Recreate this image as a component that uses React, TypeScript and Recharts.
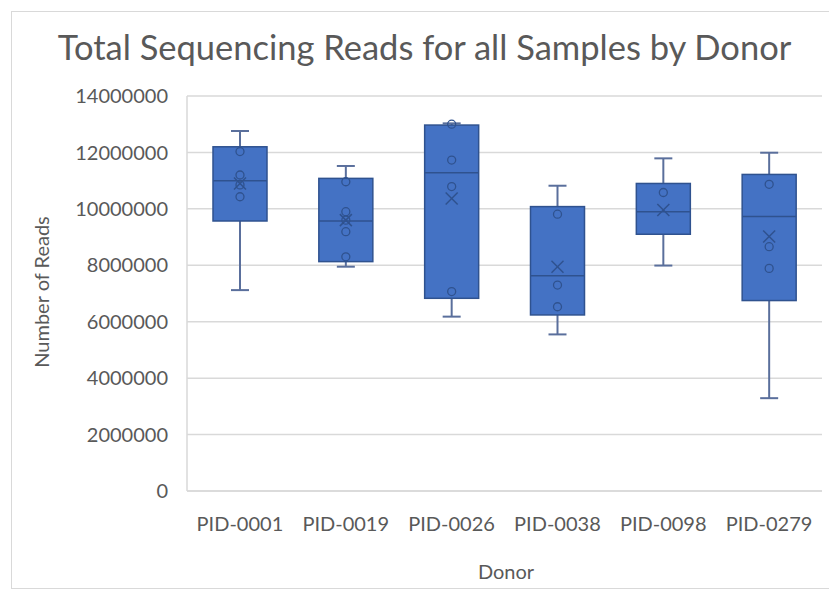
import { ComposedChart, Bar, XAxis, YAxis, CartesianGrid } from 'recharts';

const donors = ['PID-0001', 'PID-0019', 'PID-0026', 'PID-0038', 'PID-0098', 'PID-0279'];
const minValues = [7120000, 7950000, 6180000, 5550000, 7990000, 3290000];
const q1Values = [9570000, 8130000, 6830000, 6240000, 9100000, 6750000];
const medianValues = [11000000, 9570000, 11280000, 7630000, 9900000, 9730000];
const q3Values = [12200000, 11080000, 12970000, 10080000, 10900000, 11220000];
const maxValues = [12760000, 11520000, 13030000, 10820000, 11790000, 11990000];
const meanValues = [10900000, 9600000, 10370000, 7950000, 9960000, 9020000];
const innerPoints = [
  [12030000, 11200000, 10850000, 10430000],
  [10960000, 9900000, 9600000, 9190000, 8300000],
  [13000000, 11730000, 10790000, 7070000],
  [9810000, 7300000, 6530000],
  [10580000],
  [10870000, 8660000, 7890000],
];
const yTicks = [0, 2000000, 4000000, 6000000, 8000000, 10000000, 12000000, 14000000];

const rows = donors.map((donor, i) => ({
  donor,
  min: minValues[i],
  q1: q1Values[i],
  median: medianValues[i],
  q3: q3Values[i],
  max: maxValues[i],
  mean: meanValues[i],
  points: innerPoints[i],
  range: [minValues[i], maxValues[i]],
}));

const FONT = 'Lato, "Open Sans", sans-serif';
const TEXT = '#595959';
const BOX_FILL = '#4472C4';
const BOX_EDGE = '#2F528F';
const WHISKER = '#5A6F9C';

function BoxShape(props: any) {
  const { x, y, width, height, payload } = props;
  const top = Math.min(y, y + height);
  const h = Math.abs(height);
  const { min, max } = payload;
  // pixel position inside the min..max range the bar covers
  const py = (v: number) => top + ((max - v) / (max - min)) * h;
  const cx = x + width / 2;
  const cap = 9;
  const m = py(payload.mean);
  return (
    <g>
      <line x1={cx} x2={cx} y1={py(max)} y2={py(payload.q3)} stroke={WHISKER} strokeWidth={2} />
      <line x1={cx} x2={cx} y1={py(payload.q1)} y2={py(min)} stroke={WHISKER} strokeWidth={2} />
      <line x1={cx - cap} x2={cx + cap} y1={py(max)} y2={py(max)} stroke={WHISKER} strokeWidth={2} />
      <line x1={cx - cap} x2={cx + cap} y1={py(min)} y2={py(min)} stroke={WHISKER} strokeWidth={2} />
      <rect
        x={x}
        y={py(payload.q3)}
        width={width}
        height={py(payload.q1) - py(payload.q3)}
        fill={BOX_FILL}
        stroke={BOX_EDGE}
        strokeWidth={1.5}
      />
      <line x1={x} x2={x + width} y1={py(payload.median)} y2={py(payload.median)} stroke={BOX_EDGE} strokeWidth={1.5} />
      {payload.points.map((p: number, k: number) => (
        <circle key={k} cx={cx} cy={py(p)} r={4} fill="none" stroke={BOX_EDGE} strokeWidth={1.3} />
      ))}
      <line x1={cx - 6} x2={cx + 6} y1={m - 6} y2={m + 6} stroke={BOX_EDGE} strokeWidth={1.5} />
      <line x1={cx - 6} x2={cx + 6} y1={m + 6} y2={m - 6} stroke={BOX_EDGE} strokeWidth={1.5} />
    </g>
  );
}

export default function App() {
  return (
    <div style={{ position: 'absolute', left: 0, top: 0, width: 829, height: 593, background: '#fff', overflow: 'hidden', fontFamily: FONT }}>
      <div style={{ position: 'absolute', left: 11, top: 11, width: 840, height: 576, border: '1px solid #d9d9d9' }} />
      <div style={{ position: 'absolute', left: 0, top: 30, width: 849, textAlign: 'center', fontSize: 34.5, lineHeight: '34px', color: TEXT, whiteSpace: 'nowrap' }}>
        Total Sequencing Reads for all Samples by Donor
      </div>
      <div style={{ position: 'absolute', left: 41, top: 292, transform: 'translate(-50%, -50%) rotate(-90deg)', fontSize: 20, color: TEXT, whiteSpace: 'nowrap' }}>
        Number of Reads
      </div>
      <div style={{ position: 'absolute', left: 506, top: 571, transform: 'translate(-50%, -50%)', fontSize: 20, color: TEXT, whiteSpace: 'nowrap' }}>
        Donor
      </div>
      <div style={{ position: 'absolute', left: 0, top: 0 }}>
        <ComposedChart width={829} height={593} data={rows} margin={{ top: 96, right: 7, bottom: 42, left: 0 }}>
          <CartesianGrid vertical={false} stroke="#d9d9d9" strokeWidth={1.5} />
          <XAxis
            dataKey="donor"
            height={60}
            axisLine={{ stroke: '#d9d9d9', strokeWidth: 1.5 }}
            tickLine={false}
            tickSize={0}
            tickMargin={26}
            tick={{ fill: TEXT, fontSize: 20, fontFamily: FONT }}
          />
          <YAxis
            width={187}
            domain={[0, 14000000]}
            ticks={yTicks}
            interval={0}
            axisLine={{ stroke: '#d9d9d9', strokeWidth: 1.5 }}
            tickLine={false}
            tickSize={0}
            tickMargin={19}
            tick={{ fill: TEXT, fontSize: 20, fontFamily: FONT }}
          />
          <Bar dataKey="range" barSize={54} shape={<BoxShape />} isAnimationActive={false} />
        </ComposedChart>
      </div>
    </div>
  );
}
